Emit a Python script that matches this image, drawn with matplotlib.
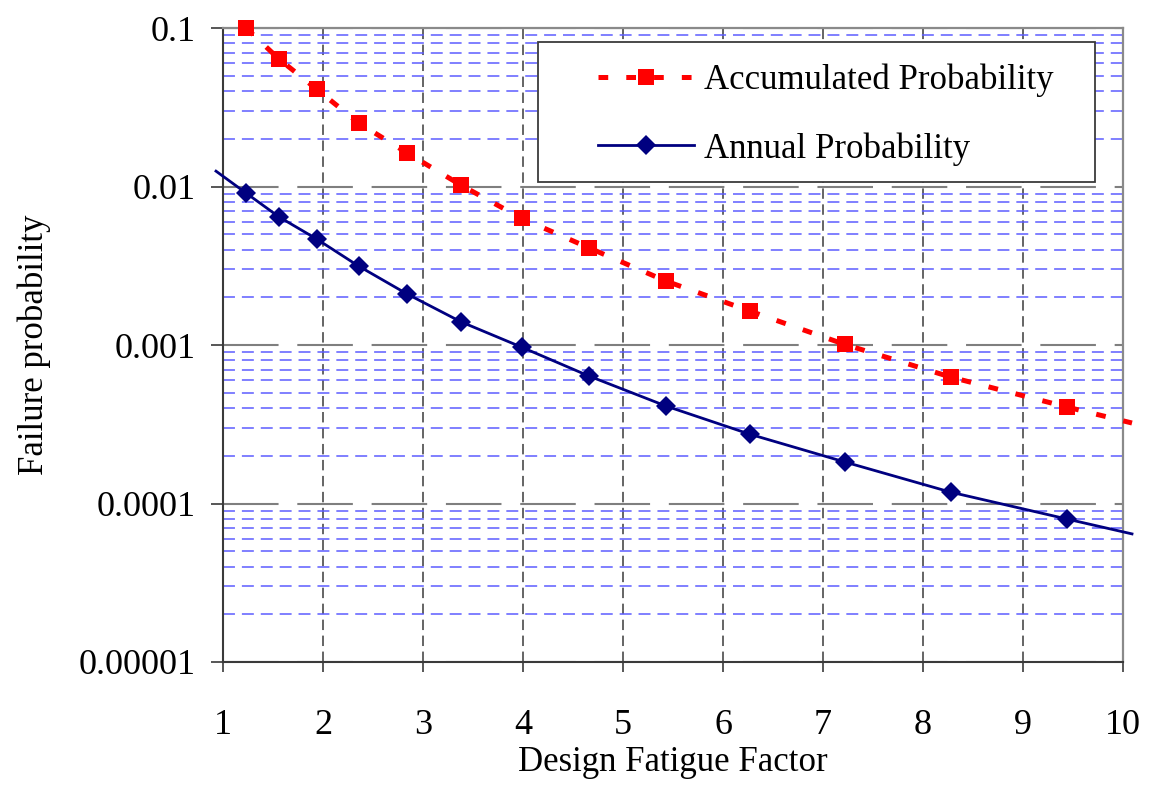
import matplotlib
matplotlib.use("Agg")
import matplotlib.pyplot as plt
from matplotlib.patches import Rectangle
from matplotlib.ticker import FixedLocator, FixedFormatter, LogLocator, NullFormatter

plt.rcParams['font.family'] = ['Liberation Serif', 'DejaVu Serif']
plt.rcParams['lines.scale_dashes'] = False

# ---- data ----
dff = [1.23, 1.56, 1.935, 2.355, 2.84, 3.38, 3.985, 4.66, 5.43, 6.265, 7.215, 8.275, 9.44]
accumulated = [0.1, 0.0637, 0.0412, 0.0252, 0.0163, 0.0102, 0.0063, 0.0041,
               0.00253, 0.00164, 0.00101, 0.000628, 0.000406]
annual = [0.0091, 0.00643, 0.00467, 0.00315, 0.0021, 0.0014, 0.00097, 0.000637,
          0.000412, 0.000274, 0.000183, 0.000118, 0.0000798]
# curve end points (lines run slightly past the plotted markers)
annual_start = (0.93, 0.0125)
annual_end = (10.09, 0.0000643)
accum_end = (10.09, 0.000322)

xticks = [1, 2, 3, 4, 5, 6, 7, 8, 9, 10]
yticks = [1e-5, 1e-4, 1e-3, 1e-2, 1e-1]
ytick_labels = ['0.00001', '0.0001', '0.001', '0.01', '0.1']
labels = ['Accumulated Probability', 'Annual Probability']

W, H = 1152, 787
fig = plt.figure(figsize=(W / 100, H / 100), dpi=100)
L, R, T, B = 223, 1123, 28, 662
ax = fig.add_axes([L / W, 1 - B / H, (R - L) / W, (B - T) / H])

ax.set_yscale('log')
ax.set_xlim(1, 10)
ax.set_ylim(1e-5, 0.1)

# grids
ax.set_axisbelow(True)
ax.xaxis.grid(True, which='major', color='#3a3a3a', linestyle=(0, (7.5, 4.0)), linewidth=1.1)
ax.yaxis.grid(True, which='major', color='#7f7f7f', linestyle=(0, (40, 13.5)), linewidth=1.5)
ax.yaxis.set_minor_locator(LogLocator(base=10, subs=[2, 3, 4, 5, 6, 7, 8, 9]))
ax.yaxis.set_minor_formatter(NullFormatter())
ax.yaxis.grid(True, which='minor', color='#5c5cff', linestyle=(0, (8.6, 5.0)), linewidth=1.1)

# ticks
ax.xaxis.set_major_locator(FixedLocator(xticks))
ax.set_xticklabels([str(v) for v in xticks])
ax.yaxis.set_major_locator(FixedLocator(yticks))
ax.yaxis.set_major_formatter(FixedFormatter(ytick_labels))
ax.tick_params(axis='x', which='major', direction='out', length=7.5, width=1.2,
               color='#3a3a3a', labelsize=26, pad=26)
ax.tick_params(axis='y', which='major', direction='out', length=8.6, width=1.2,
               color='#3a3a3a', labelsize=26, pad=11)
ax.tick_params(axis='y', which='minor', length=0)

for s in ['left', 'bottom']:
    ax.spines[s].set_color('#3a3a3a')
    ax.spines[s].set_linewidth(1.5)
for s in ['top', 'right']:
    ax.spines[s].set_color('#8a8a8a')
    ax.spines[s].set_linewidth(1.6)

# data lines
acc_x = dff + [accum_end[0]]
acc_y = accumulated + [accum_end[1]]
ann_x = [annual_start[0]] + dff + [annual_end[0]]
ann_y = [annual_start[1]] + annual + [annual_end[1]]

l1, = ax.plot(acc_x, acc_y, color='#ff0000', linewidth=3.6, linestyle=(0, (7, 13)),
              marker='s', markersize=11.5, markeredgewidth=0, markevery=list(range(len(dff))),
              clip_on=False, zorder=3, label=labels[0])
l2, = ax.plot(ann_x, ann_y, color='#000080', linewidth=2.0, linestyle='-',
              marker='D', markersize=9.8, markeredgewidth=0,
              markevery=list(range(1, len(dff) + 1)),
              clip_on=False, zorder=3, label=labels[1])

ax.set_xlabel('Design Fatigue Factor', fontsize=25, labelpad=3)
ax.set_ylabel('Failure probability', fontsize=25, labelpad=20)

# legend box
bx0, bx1, by0, by1 = 538, 1095, 42, 182
box = Rectangle(((bx0 - L) / (R - L), (B - by1) / (B - T)), (bx1 - bx0) / (R - L),
                (by1 - by0) / (B - T), transform=ax.transAxes, facecolor='white',
                edgecolor='#3a3a3a', linewidth=1.3, zorder=4, clip_on=False)
ax.add_patch(box)
leg = ax.legend(handles=[l1, l2], loc='center left',
                bbox_to_anchor=((598 - L) / (R - L), (B - 114.5) / (B - T)),
                frameon=False, fontsize=25, borderpad=0, borderaxespad=0,
                handlelength=2.76, handletextpad=0.3, labelspacing=1.01, numpoints=1)
leg.set_zorder(5)

fig.savefig('out.png', dpi=100)
